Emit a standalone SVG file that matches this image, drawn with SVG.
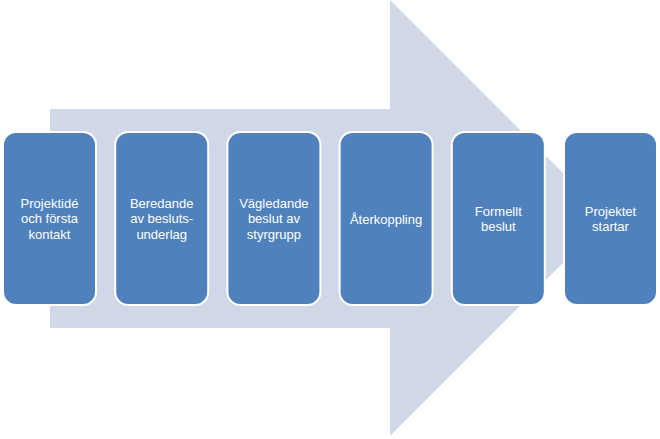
<svg xmlns="http://www.w3.org/2000/svg" width="660" height="439" viewBox="0 0 660 439">
<style>
.box{fill:#4f81bd;stroke:#ffffff;stroke-width:2}
.lbl{font-family:"Liberation Sans",Arial,sans-serif;font-size:13px;fill:#ffffff;text-anchor:middle}
</style>
<rect width="660" height="439" fill="#ffffff"/>
<g id="arrow">
<polygon points="50,109 390,109 390,0 608,218 390,436 390,328 50,328" fill="#d0d8e8"/>
</g>
<g id="connectors"></g>
<g id="n1">
<rect class="box" x="3" y="132" width="93" height="173" rx="13"/>
<text class="lbl" x="49.5" y="207.5">Projektidé</text>
<text class="lbl" x="49.5" y="223">och första</text>
<text class="lbl" x="49.5" y="238.5">kontakt</text>
</g>
<g id="n2">
<rect class="box" x="115.2" y="132" width="93" height="173" rx="13"/>
<text class="lbl" x="161.7" y="207.5">Beredande</text>
<text class="lbl" x="161.7" y="223">av besluts-</text>
<text class="lbl" x="161.7" y="238.5">underlag</text>
</g>
<g id="n3">
<rect class="box" x="227.4" y="132" width="93" height="173" rx="13"/>
<text class="lbl" x="273.9" y="207.5">Vägledande</text>
<text class="lbl" x="273.9" y="223">beslut av</text>
<text class="lbl" x="273.9" y="238.5">styrgrupp</text>
</g>
<g id="n4">
<rect class="box" x="339.6" y="132" width="93" height="173" rx="13"/>
<text class="lbl" x="386.1" y="223.5">Återkoppling</text>
</g>
<g id="n5">
<rect class="box" x="451.8" y="132" width="93" height="173" rx="13"/>
<text class="lbl" x="498.3" y="215.5">Formellt</text>
<text class="lbl" x="498.3" y="231">beslut</text>
</g>
<g id="n6">
<rect class="box" x="564" y="132" width="93" height="173" rx="13"/>
<text class="lbl" x="610.5" y="215.5">Projektet</text>
<text class="lbl" x="610.5" y="231">startar</text>
</g>
</svg>
